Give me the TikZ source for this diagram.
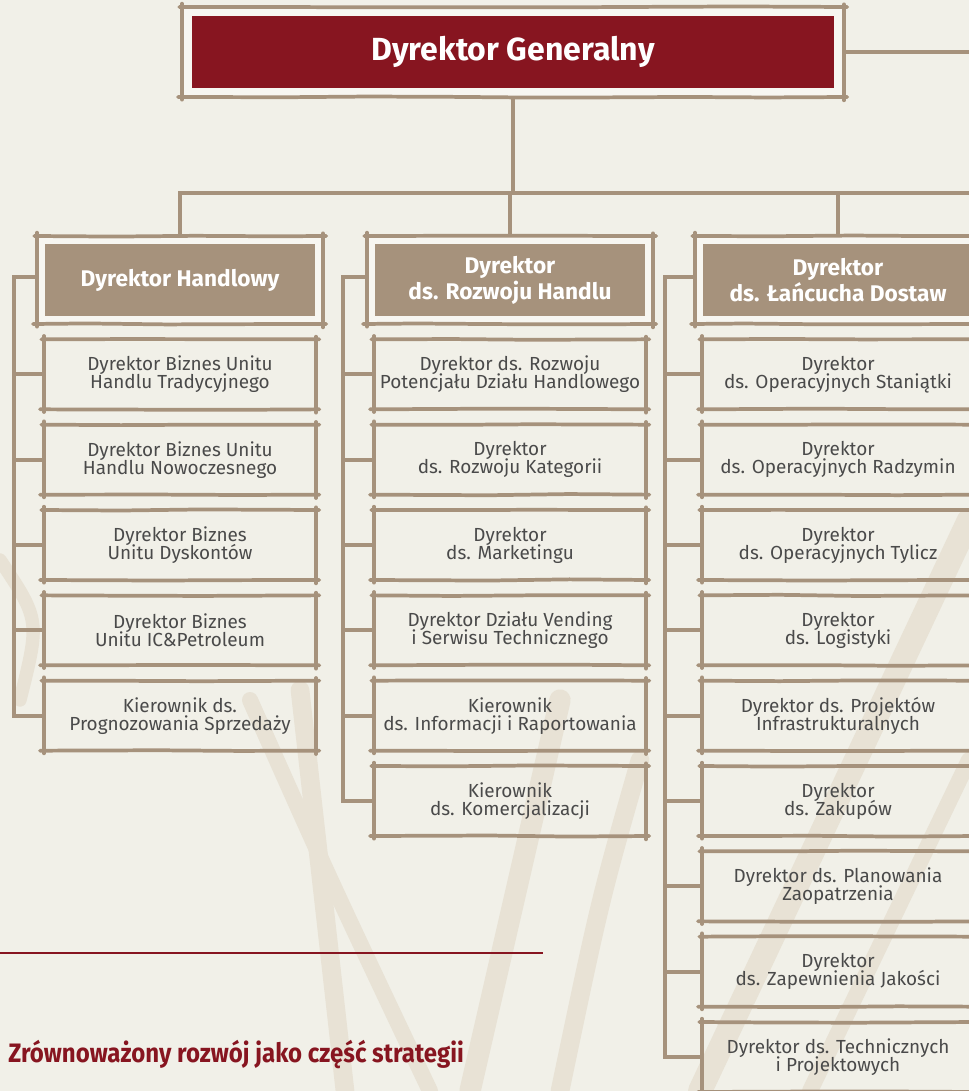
\documentclass[tikz,border=0pt]{standalone}
\usepackage{fontspec}
\setmainfont{Fira Sans}
\newfontfamily\condfont[FakeStretch=0.90]{Fira Sans}
\usetikzlibrary{positioning,calc,decorations.pathmorphing}
\definecolor{cPaper}{HTML}{F1F0E8}
\definecolor{cGap}{HTML}{F7F6F1}
\definecolor{cTan}{HTML}{A6927C}
\definecolor{cTree}{HTML}{E8E2D5}
\definecolor{cWine}{HTML}{871520}
\definecolor{cText}{HTML}{4A4A4A}
\newcommand\tightlines{\lineskiplimit=-10pt\relax\lineskip=0pt\relax}

\begin{document}
\pgfmathsetseed{11}
\begin{tikzpicture}[
  x=0.75pt, y=-0.75pt,
  node distance=11.5pt,
  skl/.style={draw=cTan, line width=2.8pt, line cap=round,
              decorate, decoration={random steps, segment length=60pt, amplitude=0.5pt}},
  sketch/.style={append after command={
     ([xshift=-2pt]\tikzlastnode.north west) edge[skl] ([xshift=2.5pt]\tikzlastnode.north east)
     ([yshift=2pt]\tikzlastnode.north east) edge[skl] ([yshift=-2.5pt]\tikzlastnode.south east)
     ([xshift=2.5pt]\tikzlastnode.south east) edge[skl] ([xshift=-3pt]\tikzlastnode.south west)
     ([yshift=-2pt]\tikzlastnode.south west) edge[skl] ([yshift=2.5pt]\tikzlastnode.north west)}},
  subbox/.style={sketch, outer sep=0pt, inner sep=0pt, minimum width=204pt,
                 minimum height=52.5pt, align=center, text=cText,
                 font=\fontsize{14.2}{13.5}\selectfont\tightlines},
  hframe/.style={sketch, fill=cGap, outer sep=0pt, minimum width=214.5pt,
                 minimum height=66pt},
  hbox/.style={fill=cTan, outer sep=0pt, minimum width=202.5pt, minimum height=54pt,
               align=center, text=white, font=\fontsize{17}{19.5}\selectfont\bfseries},
  conn/.style={draw=cTan, line width=2.8pt},
  tree/.style={draw=cTree, line width=#1, line cap=round},
]
\useasboundingbox (0,0) rectangle (969,1091);
\clip (0,0) rectangle (969,1091);
\fill[cPaper] (0,0) rectangle (969,1091);

% ---- faint tree in the paper ----
\draw[tree=14pt] (300,690) -- (345,1091);
\draw[tree=12pt] (250,700) .. controls (330,880) .. (430,1091);
\draw[tree=16pt] (560,700) -- (470,1091);
\draw[tree=14pt] (640,760) .. controls (600,900) .. (560,1091);
\draw[tree=18pt] (969,520) -- (700,1091);
\draw[tree=12pt] (969,760) -- (810,1091);
\draw[tree=10pt] (0,560) .. controls (40,620) .. (20,700);

% ---- Top ----
\node[hframe, minimum width=496.5pt, minimum height=67.5pt] (dg-f) at (513,52) {};
\node[hbox, fill=cWine, minimum width=481.5pt, font=\fontsize{24}{26}\selectfont\bfseries]
  (dg) at (dg-f) {Dyrektor Generalny};
\coordinate (redge) at (969,193);

% ---- Columns: heads ----
\node[hframe] (hand-f) at (180,280) {};
\node[hbox] (hand) at (hand-f) {Dyrektor Handlowy};
\node[hframe] (rozw-f) at (510,280) {};
\node[hbox] (rozw) at (rozw-f) {Dyrektor\\ds. Rozwoju Handlu};
\node[hframe] (lanc-f) at (838,280) {};
\node[hbox] (lanc) at (lanc-f) {Dyrektor\\ds. Łańcucha Dostaw};

% ---- Handlowy ----
\node[subbox, below=of hand-f] (h1) {Dyrektor Biznes Unitu\\Handlu Tradycyjnego};
\node[subbox, below=of h1] (h2) {Dyrektor Biznes Unitu\\Handlu Nowoczesnego};
\node[subbox, below=of h2] (h3) {Dyrektor Biznes\\Unitu Dyskontów};
\node[subbox, below=of h3] (h4) {Dyrektor Biznes\\Unitu IC\&Petroleum};
\node[subbox, below=of h4] (h5) {Kierownik ds.\\Prognozowania Sprzedaży};

% ---- Rozwoj Handlu ----
\node[subbox, below=of rozw-f] (r1) {Dyrektor ds. Rozwoju\\Potencjału Działu Handlowego};
\node[subbox, below=of r1] (r2) {Dyrektor\\ds. Rozwoju Kategorii};
\node[subbox, below=of r2] (r3) {Dyrektor\\ds. Marketingu};
\node[subbox, below=of r3] (r4) {Dyrektor Działu Vending\\i Serwisu Technicznego};
\node[subbox, below=of r4] (r5) {Kierownik\\ds. Informacji i Raportowania};
\node[subbox, below=of r5] (r6) {Kierownik\\ds. Komercjalizacji};

% ---- Lancuch Dostaw ----
\node[subbox, below=of lanc-f] (l1) {Dyrektor\\ds. Operacyjnych Staniątki};
\node[subbox, below=of l1] (l2) {Dyrektor\\ds. Operacyjnych Radzymin};
\node[subbox, below=of l2] (l3) {Dyrektor\\ds. Operacyjnych Tylicz};
\node[subbox, below=of l3] (l4) {Dyrektor\\ds. Logistyki};
\node[subbox, below=of l4] (l5) {Dyrektor ds. Projektów\\Infrastrukturalnych};
\node[subbox, below=of l5] (l6) {Dyrektor\\ds. Zakupów};
\node[subbox, below=of l6] (l7) {Dyrektor ds. Planowania\\Zaopatrzenia};
\node[subbox, below=of l7] (l8) {Dyrektor\\ds. Zapewnienia Jakości};
\node[subbox, below=of l8] (l9) {Dyrektor ds. Technicznych\\i Projektowych};

% ---- Lines ----
\draw[conn] (dg-f.east) -- (dg-f.east -| redge);
\draw[conn] (dg-f.south) -- (dg-f.south |- redge);
\draw[conn] (hand-f.north) |- (redge);
\draw[conn] (rozw-f.north) -- (rozw-f.north |- redge);
\draw[conn] (lanc-f.north) -- (lanc-f.north |- redge);

\coordinate (bus1) at (14,0);
\coordinate (bus2) at (343,0);
\coordinate (bus3) at (665,0);
\draw[conn] ([yshift=2pt]hand-f.west) -- ([yshift=2pt]hand-f.west -| bus1) |- (h5.west);
\draw[conn] (h1.west) -- (h1.west -| bus1);
\draw[conn] (h2.west) -- (h2.west -| bus1);
\draw[conn] (h3.west) -- (h3.west -| bus1);
\draw[conn] (h4.west) -- (h4.west -| bus1);

\draw[conn] ([yshift=2pt]rozw-f.west) -- ([yshift=2pt]rozw-f.west -| bus2) |- (r6.west);
\draw[conn] (r1.west) -- (r1.west -| bus2);
\draw[conn] (r2.west) -- (r2.west -| bus2);
\draw[conn] (r3.west) -- (r3.west -| bus2);
\draw[conn] (r4.west) -- (r4.west -| bus2);
\draw[conn] (r5.west) -- (r5.west -| bus2);

\draw[conn] ([yshift=2pt]lanc-f.west) -- ([yshift=2pt]lanc-f.west -| bus3) |- (l9.west);
\draw[conn] (l1.west) -- (l1.west -| bus3);
\draw[conn] (l2.west) -- (l2.west -| bus3);
\draw[conn] (l3.west) -- (l3.west -| bus3);
\draw[conn] (l4.west) -- (l4.west -| bus3);
\draw[conn] (l5.west) -- (l5.west -| bus3);
\draw[conn] (l6.west) -- (l6.west -| bus3);
\draw[conn] (l7.west) -- (l7.west -| bus3);
\draw[conn] (l8.west) -- (l8.west -| bus3);

% ---- Footer ----
\draw[cWine, line width=1.5pt] (0,953) -- (543,953);
\node[anchor=base west, inner sep=0pt, text=cWine,
      font=\condfont\fontsize{20}{22}\selectfont\bfseries] (strat) at (8,1062)
  {Zrównoważony rozwój jako część strategii};
\end{tikzpicture}
\end{document}
